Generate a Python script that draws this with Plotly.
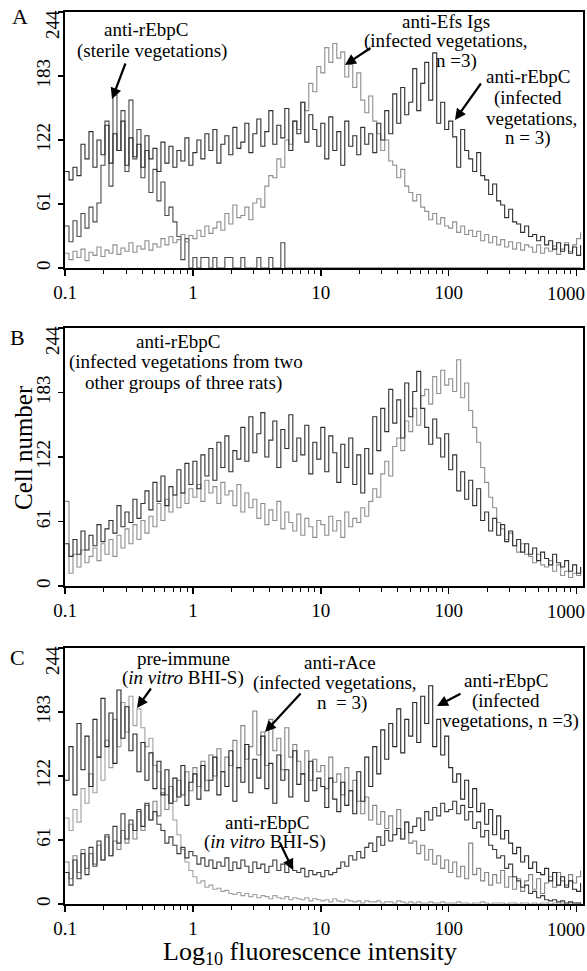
import plotly.graph_objects as go

# ---------------- data (cell counts per log channel, 32 channels per decade) ----------------
N_CH = 130
CHANNELS = [10 ** (-1 + i / 32) for i in range(N_CH)]

X_TICKS = [0.1, 1, 10, 100, 1000]
X_TICK_TEXT = ["0.1", "1", "10", "100", "1000"]
Y_TICKS = [0, 61, 122, 183, 244]

# Panel A
A_STERILE = ([40, 25, 45, 30, 52, 38, 58, 44, 62, 98, 140, 78, 165, 112, 150, 92,
              160, 104, 132, 86, 112, 72, 94, 64, 82, 50, 58, 44, 30, 8, 28, 0] +
             [10, 0, 10, 10, 0, 10, 0, 0, 10, 10, 0, 0, 10, 0, 0, 0,
              10, 0, 0, 10, 0, 0, 24, 0, 0, 0, 0, 0, 0, 0, 0, 0] +
             [0] * 32 + [0] * 32 + [0, 0])
A_INFECTED = ([92, 84, 96, 88, 118, 104, 130, 96, 122, 108, 136, 100, 128, 112, 140, 98,
               124, 106, 118, 96, 126, 104, 114, 92, 120, 100, 116, 96, 112, 102, 124, 98] +
              [110, 122, 104, 128, 112, 132, 100, 118, 126, 108, 134, 114, 120, 138, 110, 128,
               142, 116, 130, 150, 118, 136, 124, 152, 112, 140, 128, 158, 120, 146, 132, 116] +
              [138, 104, 144, 112, 130, 98, 140, 116, 126, 108, 134, 118, 128, 110, 138, 122,
               150, 128, 166, 138, 172, 146, 158, 190, 150, 176, 196, 160, 205, 138, 158, 132] +
              [140, 125, 96, 132, 112, 104, 92, 110, 88, 84, 70, 80, 64, 60, 48, 56,
               44, 42, 34, 40, 30, 32, 26, 30, 22, 26, 18, 24, 16, 22, 14, 20] +
              [12, 22])
A_EFS = ([14, 8, 16, 10, 18, 7, 15, 12, 20, 11, 17, 14, 22, 13, 19, 16,
          24, 15, 21, 18, 26, 17, 23, 20, 28, 22, 30, 24, 27, 32, 25, 31] +
         [28, 36, 30, 40, 33, 38, 44, 36, 52, 42, 60, 48, 50, 58, 46, 62,
          66, 58, 78, 88, 86, 104, 96, 122, 118, 140, 132, 158, 150, 176, 168, 192] +
         [186, 210, 196, 214, 200, 206, 182, 194, 172, 186, 160, 148, 164, 140, 128, 112,
          122, 102, 98, 86, 94, 78, 72, 64, 70, 58, 54, 46, 52, 42, 48, 40] +
         [38, 44, 34, 40, 32, 36, 30, 35, 26, 32, 24, 30, 22, 27, 20, 25,
          18, 24, 17, 22, 20, 15, 22, 14, 19, 16, 21, 13, 18, 24, 16, 22] +
         [28, 34])

# Panel B
B_DARK = ([40, 28, 44, 30, 52, 34, 48, 38, 58, 42, 54, 62, 50, 76, 56, 70,
           60, 82, 64, 78, 90, 72, 98, 80, 104, 76, 94, 86, 110, 88, 116, 96] +
          [118, 92, 124, 104, 130, 100, 136, 112, 142, 108, 128, 120, 150, 118, 160, 126,
           144, 164, 122, 138, 156, 112, 148, 130, 162, 118, 140, 124, 152, 106, 136, 120] +
          [150, 108, 142, 126, 98, 134, 112, 140, 96, 124, 88, 130, 106, 160, 128, 168,
           146, 186, 154, 176, 140, 192, 160, 184, 203, 168, 150, 134, 158, 140, 122, 144] +
          [110, 124, 90, 108, 82, 100, 76, 92, 62, 70, 52, 64, 48, 58, 42, 52,
           38, 44, 32, 40, 30, 36, 24, 32, 26, 20, 30, 22, 18, 24, 14, 20] +
          [12, 18])
B_GRAY = ([80, 12, 30, 18, 34, 22, 28, 36, 24, 40, 30, 44, 28, 48, 36, 54,
           40, 58, 44, 62, 50, 66, 56, 78, 62, 82, 70, 86, 74, 88, 78, 92] +
          [84, 96, 80, 100, 88, 94, 78, 98, 86, 90, 76, 96, 70, 88, 74, 82,
           64, 78, 58, 72, 62, 80, 54, 70, 60, 52, 68, 48, 64, 56, 46, 62] +
          [58, 48, 66, 52, 62, 46, 70, 56, 64, 60, 74, 66, 80, 92, 84, 106,
           118, 104, 132, 140, 128, 156, 146, 168, 152, 180, 186, 172, 198, 182, 204, 190] +
          [196, 184, 214, 178, 192, 166, 150, 136, 112, 98, 84, 74, 60, 54, 44, 50,
           38, 32, 40, 30, 28, 22, 30, 20, 18, 24, 14, 20, 10, 14, 8, 12] +
          [10, 18])

# Panel C
C_PRE = ([82, 70, 90, 78, 110, 96, 124, 106, 140, 118, 156, 130, 176, 150, 192, 164,
          198, 170, 186, 168, 150, 158, 132, 126, 110, 104, 96, 80, 66, 52, 40, 32] +
         [26, 20, 22, 16, 18, 14, 15, 12, 13, 10, 9, 11, 8, 10, 7, 9,
          6, 8, 7, 5, 8, 6, 5, 7, 4, 6, 5, 4, 6, 3, 5, 4] +
         [3, 4, 2, 5, 3, 2, 4, 3, 2, 3, 1, 3, 2, 2, 3, 1,
          2, 2, 1, 3, 2, 1, 2, 1, 2, 1, 1, 2, 1, 1, 2, 1] +
         [1, 1, 2, 1, 1, 0, 1, 1, 2, 1, 0, 1, 1, 1, 0, 1,
          1, 0, 1, 1, 0, 1, 0, 1, 1, 0, 1, 0, 1, 0, 1, 0] +
         [1, 0])
C_VITRO = ([30, 18, 42, 24, 48, 28, 54, 36, 60, 42, 66, 46, 74, 58, 86, 62,
            80, 70, 90, 74, 96, 80, 88, 76, 70, 58, 64, 56, 48, 54, 44, 50] +
           [46, 38, 44, 36, 42, 34, 40, 36, 44, 32, 40, 34, 42, 36, 30, 40,
            34, 38, 30, 36, 42, 32, 38, 30, 36, 32, 30, 34, 26, 32, 28, 30] +
           [26, 32, 28, 30, 34, 40, 36, 46, 42, 50, 44, 54, 58, 50, 64, 56,
            70, 60, 66, 72, 62, 78, 68, 74, 82, 70, 88, 80, 92, 84, 96, 88] +
           [90, 98, 86, 94, 80, 88, 72, 78, 64, 70, 56, 52, 44, 46, 34, 38,
            26, 22, 16, 18, 10, 12, 6, 8, 4, 3, 4, 2, 3, 1, 2, 1] +
           [1, 0])
C_RACE = ([40, 24, 46, 30, 52, 34, 48, 38, 56, 42, 64, 46, 60, 52, 70, 58,
           76, 62, 88, 70, 94, 80, 98, 84, 106, 90, 112, 98, 118, 104, 126, 108] +
          [130, 112, 136, 118, 142, 122, 148, 126, 140, 132, 156, 130, 170, 138, 150, 184,
           142, 164, 132, 176, 146, 158, 128, 168, 140, 152, 136, 124, 146, 118, 138, 126] +
          [132, 110, 140, 116, 124, 104, 130, 108, 118, 98, 86, 102, 80, 94, 76, 88,
           72, 84, 66, 90, 62, 78, 58, 60, 48, 56, 42, 52, 38, 46, 34, 42] +
          [30, 40, 26, 36, 24, 58, 28, 34, 22, 30, 18, 28, 20, 32, 16, 26,
           14, 24, 12, 22, 28, 14, 24, 10, 20, 26, 16, 30, 22, 18, 28, 20] +
          [26, 32])
C_INFECTED = ([118, 150, 104, 172, 128, 160, 112, 176, 140, 196, 150, 182, 134, 204, 158, 188,
               146, 162, 126, 154, 118, 144, 110, 136, 104, 128, 96, 120, 102, 132, 94, 116] +
              [124, 100, 132, 108, 118, 140, 104, 126, 112, 146, 98, 130, 116, 152, 106, 138,
               120, 160, 110, 134, 96, 142, 118, 128, 102, 146, 114, 124, 98, 136, 108, 120] +
              [112, 92, 120, 100, 88, 116, 94, 108, 86, 126, 98, 140, 112, 150, 124, 166,
               138, 172, 150, 186, 144, 176, 160, 192, 154, 198, 172, 208, 150, 176, 142, 160] +
              [130, 116, 124, 100, 118, 92, 110, 88, 96, 76, 90, 66, 84, 62, 70, 58,
               48, 54, 40, 46, 34, 40, 30, 28, 34, 22, 30, 18, 26, 16, 22, 14] +
              [12, 20])

# ---------------- layout helpers ----------------
W, H = 587, 971
SERIF = "Liberation Serif"


def px_x(p):
    return p / W


def px_y(p):
    return 1 - p / H


panels = [  # (top px, bottom px)
    (12, 268),
    (328, 586),
    (648, 904),
]

fig = go.Figure()

series = [
    (1, A_STERILE, "#4a4a4a"),
    (1, A_EFS, "#8e8e8e"),
    (1, A_INFECTED, "#2e2e2e"),
    (2, B_GRAY, "#8e8e8e"),
    (2, B_DARK, "#303030"),
    (3, C_PRE, "#a0a0a0"),
    (3, C_RACE, "#828282"),
    (3, C_VITRO, "#3a3a3a"),
    (3, C_INFECTED, "#262626"),
]
for row, ys, col in series:
    sfx = "" if row == 1 else str(row)
    fig.add_trace(go.Scatter(
        x=CHANNELS, y=ys, mode="lines", line=dict(color=col, width=1.1, shape="hv"),
        xaxis="x" + sfx, yaxis="y" + sfx, showlegend=False, hoverinfo="skip"))

TICK_FS = 19
minor_vals = [k * 10 ** d for d in range(-1, 3) for k in range(2, 10)]
# edge labels ("244" on y, "1000" on x) are drawn separately, kept inside the page like the original
Y_TICK_TEXT = [str(v) for v in Y_TICKS[:-1]] + [""]
X_TICK_TEXT_AXIS = X_TICK_TEXT[:-1] + [""]
layout_axes = {}
for i, (top, bot) in enumerate(panels, start=1):
    sfx = "" if i == 1 else str(i)
    layout_axes["xaxis" + sfx] = dict(
        type="log", range=[-1, 3.05], domain=[px_x(65), px_x(583)],
        anchor="y" + sfx, tickvals=X_TICKS, ticktext=X_TICK_TEXT_AXIS, automargin=False,
        ticklabeloverflow="allow",
        ticks="outside", ticklen=6, tickwidth=1.5, tickcolor="black",
        minor=dict(tickvals=minor_vals, ticks="outside", ticklen=4, tickwidth=1, tickcolor="black", showgrid=False),
        showline=True, linecolor="black", linewidth=2.2, mirror=True,
        showgrid=False, zeroline=False,
        tickfont=dict(family=SERIF, size=TICK_FS, color="black"))
    layout_axes["yaxis" + sfx] = dict(
        range=[0, 244], domain=[px_y(bot), px_y(top)], anchor="x" + sfx, automargin=False,
        ticklabeloverflow="allow",
        tickvals=Y_TICKS, ticktext=Y_TICK_TEXT, tickangle=-90,
        ticks="outside", ticklen=5, tickwidth=1.5, tickcolor="black",
        showline=True, linecolor="black", linewidth=2.2, mirror=True,
        showgrid=False, zeroline=False,
        tickfont=dict(family=SERIF, size=TICK_FS, color="black"))

fig.update_layout(
    width=W, height=H, margin=dict(l=0, r=0, t=0, b=0, autoexpand=False),
    paper_bgcolor="white", plot_bgcolor="white",
    **layout_axes)

FS = 19


def text(px, py, s, size=FS, angle=0, xanchor="center"):
    fig.add_annotation(x=px_x(px), y=px_y(py), xref="paper", yref="paper", text=s,
                       showarrow=False, xanchor=xanchor, yanchor="middle", textangle=angle,
                       font=dict(family=SERIF, size=size, color="black"), align="center")


def block(px, lines):
    for (dx, py, s) in lines:
        text(px + dx, py, s)


def arrow(hx, hy, tx, ty):
    fig.add_annotation(x=px_x(hx), y=px_y(hy), xref="paper", yref="paper", text="",
                       showarrow=True, ax=tx - hx, ay=ty - hy, arrowhead=2, arrowsize=1.0,
                       arrowwidth=2.2, arrowcolor="black", standoff=0)


# edge tick labels
for (top, bot) in panels:
    text(52, top + 13, str(Y_TICKS[-1]), size=TICK_FS, angle=-90)
    text(587, bot + 25, X_TICK_TEXT[-1], size=TICK_FS, xanchor="right")

# Panel letters & axis titles
text(20, 17, "A", size=22)
text(17, 337, "B", size=22)
text(17, 657, "C", size=22)
text(23, 448, "Cell number", size=25, angle=-90)
text(310, 953, "Log<sub>10</sub> fluorescence intensity", size=26)

# Panel A annotations
block(150, [(-4, 30, "anti-rEbpC"), (2, 51, "(sterile vegetations)")])
arrow(112, 99, 126, 62)
block(446, [(0, 21, "anti-Efs Igs"), (0, 41, "(infected vegetations,"), (10, 61, "n =3)")])
arrow(345, 65, 372, 47)
block(528, [(0, 77, "anti-rEbpC"), (0, 98, "(infected"), (3, 118, "vegetations,"), (0, 138, "n = 3)")])
arrow(455, 120, 482, 82)

# Panel B annotation
block(182, [(-4, 341, "anti-rEbpC"), (4, 362, "(infected vegetations from two"),
            (1, 383, "other groups of three rats)")])

# Panel C annotations
block(183, [(0, 658, "pre-immune"), (0, 678, "(<i>in vitro</i> BHI-S)")])
arrow(137, 708, 152, 687)
block(338, [(2, 662, "anti-rAce"), (-3, 683, "(infected vegetations,"), (4, 703, "n  = 3)")])
arrow(265, 732, 302, 692)
block(508, [(-2, 680, "anti-rEbpC"), (-2, 701, "(infected"), (2, 721, "vegetations, n =3)")])
arrow(437, 706, 462, 693)
block(266, [(1, 822, "anti-rEbpC"), (-1, 842, "(<i>in vitro</i> BHI-S)")])
arrow(293, 870, 280, 843)

fig.write_html("out.html", config={"displayModeBar": False, "staticPlot": True},
               post_script="document.body.style.margin='0';document.body.style.overflow='hidden';")
